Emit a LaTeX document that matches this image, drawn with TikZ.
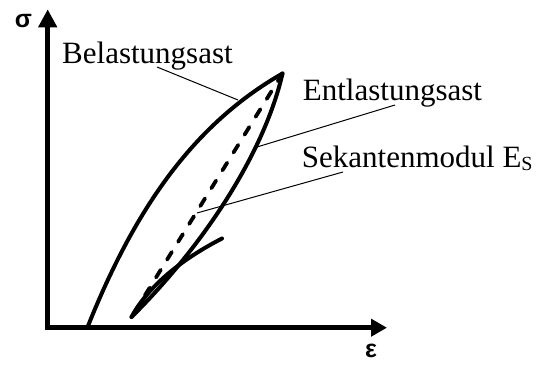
\documentclass[tikz,border=0pt]{standalone}
\usepackage{fontspec}
\setmainfont{Liberation Serif}
\newfontfamily\axisfont{Liberation Sans}
\usetikzlibrary{arrows.meta}
\tikzset{
  axis/.style={line width=5pt,{Triangle[length=18pt,width=18pt]}-{Triangle[length=16pt,width=17pt]}},
  curve/.style={line width=4pt,line cap=round,line join=round},
  secant/.style={line width=3.8pt,line cap=round,dash pattern=on 9pt off 12pt},
  leader/.style={line width=1pt},
  lbl/.style={anchor=base west,inner sep=0pt,font=\fontsize{31}{31}\selectfont},
  axlbl/.style={inner sep=0pt,font=\axisfont\bfseries\fontsize{25}{25}\selectfont}
}
\begin{document}
\begin{tikzpicture}[x=1pt,y=-1pt]
\useasboundingbox (0,0) rectangle (539,367);
% axes
\coordinate (O) at (47.7,327.7);
\coordinate (ytop) at (47.7,9.3);
\coordinate (xend) at (387,327.7);
\draw[axis] (ytop) -- (O) -- (xend);
\node[axlbl] (sig) at (23.5,21) {σ};
\node[axlbl] (eps) at (371,351) {ε};
% curve points
\coordinate (A) at (88,326);
\coordinate (P) at (282.5,73.5);
\coordinate (B) at (131.5,317);
\coordinate (R) at (222,238.5);
% loading branch
\draw[curve] (A) .. controls (136.6,204.5) and (196,123) .. (P);
% unloading branch
\draw[curve] (P) .. controls (265,150) and (207,242) .. (B);
% reloading branch
\draw[curve] (B) .. controls (151,281) and (190,255) .. (R);
% secant
\draw[secant] (P) -- (B);
% labels
\node[lbl] (bel) at (62,63) {Belastungsast};
\node[lbl] (ent) at (302.7,100.7) {Entlastungsast};
\node[lbl] (sek) at (301.7,167) {Sekantenmodul E\raisebox{-3pt}{\fontsize{20}{20}\selectfont S}};
% leader lines
\coordinate (bel1) at (157,67);
\coordinate (bel2) at (238,100);
\coordinate (ent1) at (395,105);
\coordinate (ent2) at (257,147);
\coordinate (sek1) at (343,172);
\coordinate (sek2) at (197,213);
\draw[leader] (bel1) -- (bel2);
\draw[leader] (ent1) -- (ent2);
\draw[leader] (sek1) -- (sek2);
\end{tikzpicture}
\end{document}
